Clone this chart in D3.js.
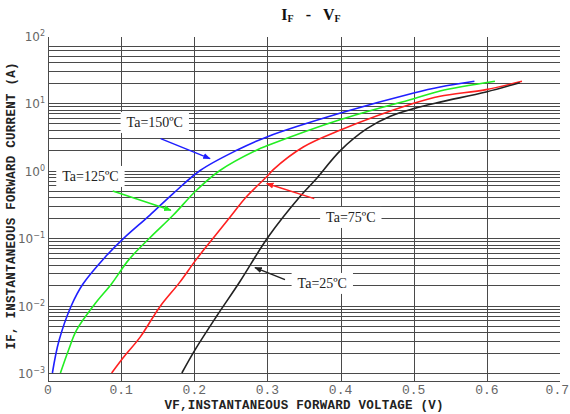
<!DOCTYPE html>
<html>
<head>
<meta charset="utf-8">
<script src="https://cdn.jsdelivr.net/npm/d3@7/dist/d3.min.js"></script>
<style>
  body { margin: 0; background: #fff; }
  svg { display: block; }
</style>
</head>
<body>
<script>
// curve data (VF in volts, IF in amps)
var v150 = [0.006, 0.015, 0.032, 0.048, 0.078, 0.103, 0.139, 0.171, 0.208, 0.258, 0.301, 0.40, 0.50, 0.536, 0.583];
var i150 = [0.001, 0.003, 0.01, 0.021, 0.052, 0.098, 0.217, 0.455, 1.0, 1.99, 3.2, 7.1, 14.1, 17.3, 21];

var v125 = [0.017, 0.028, 0.039, 0.064, 0.087, 0.110, 0.139, 0.171, 0.203, 0.235, 0.285, 0.301, 0.40, 0.50, 0.536, 0.611];
var i125 = [0.001, 0.00217, 0.0043, 0.0105, 0.021, 0.047, 0.10, 0.217, 0.51, 1.0, 2.0, 2.36, 5.7, 11.6, 15.1, 21];

var v75 = [0.087, 0.103, 0.126, 0.153, 0.180, 0.202, 0.226, 0.249, 0.271, 0.301, 0.308, 0.349, 0.399, 0.499, 0.536, 0.599, 0.648];
var i75 = [0.001, 0.0017, 0.0034, 0.0096, 0.022, 0.047, 0.10, 0.205, 0.405, 0.85, 1.03, 2.23, 3.94, 9.8, 12.6, 15.8, 21];

var v25 = [0.183, 0.201, 0.230, 0.262, 0.301, 0.344, 0.365, 0.400, 0.436, 0.468, 0.50, 0.536, 0.599, 0.645];
var i25 = [0.001, 0.0022, 0.0068, 0.0223, 0.1035, 0.405, 0.716, 1.99, 4.17, 6.36, 8.25, 10.3, 14.6, 20];

var seriesNames = ["Ta=150ºC", "Ta=125ºC", "Ta=75ºC", "Ta=25ºC"];
var seriesColors = ["#1f1fff", "#22ee22", "#ff2020", "#222222"];

// annotation anchors in data units: label centre, arrow start, arrow tip
var labelAt = [[0.146, 5.24], [0.058, 0.83], [0.414, 0.205], [0.375, 0.0216]];
var arrowFrom = [[0.154, 2.97], [0.0885, 0.497], [0.364, 0.383], [0.324, 0.0242]];
var arrowTo = [[0.2215, 1.5], [0.168, 0.257], [0.299, 0.64], [0.283, 0.0364]];

var xTicks = [0, 0.1, 0.2, 0.3, 0.4, 0.5, 0.6, 0.7];
var xTickText = ["0", "0.1", "0.2", "0.3", "0.4", "0.5", "0.6", "0.7"];
var yDecades = [-3, -2, -1, 0, 1, 2];
var yTopGrid = 70; // top decade only drawn up to 70 A

var width = 570, height = 414;
var plotTop = 37, axisBottom = 381;

var svg = d3.select("body").append("svg")
  .attr("width", width)
  .attr("height", height);

var x = d3.scaleLinear().domain([0, 0.7]).range([48, 560]);
var y = d3.scaleLog().domain([1e-3, 1e2]).range([373, 35.5]);

// horizontal grid: every 1..9 x 10^n, clipped at 70 in the top decade
var hVals = [];
yDecades.slice(0, -1).forEach(function(n) {
  for (var k = 1; k <= 9; k++) {
    var val = k * Math.pow(10, n);
    if (val <= yTopGrid + 1e-9) hVals.push(val);
  }
});

var grid = svg.append("g").attr("class", "grid");
grid.selectAll("line.h")
  .data(hVals)
  .enter().append("line")
  .attr("class", "h")
  .attr("x1", x(0)).attr("x2", x(0.7))
  .attr("y1", function(d) { return Math.round(y(d)) + 0.5; })
  .attr("y2", function(d) { return Math.round(y(d)) + 0.5; })
  .attr("stroke", "#4a4a4a")
  .attr("stroke-width", 1);

// bottom axis line
grid.append("line")
  .attr("x1", x(0)).attr("x2", x(0.7))
  .attr("y1", axisBottom + 0.5).attr("y2", axisBottom + 0.5)
  .attr("stroke", "#4a4a4a");

grid.selectAll("line.v")
  .data(xTicks.slice(0, -1))
  .enter().append("line")
  .attr("class", "v")
  .attr("x1", function(d) { return Math.round(x(d)) + 0.5; })
  .attr("x2", function(d) { return Math.round(x(d)) + 0.5; })
  .attr("y1", plotTop).attr("y2", axisBottom)
  .attr("stroke", "#4a4a4a")
  .attr("stroke-width", 1);

// tick labels
var last = xTicks.length - 1;
svg.append("g").selectAll("text")
  .data(xTicks)
  .enter().append("text")
  .attr("x", function(d, i) { return i == last ? 569 : x(d); })
  .attr("y", 394)
  .attr("text-anchor", function(d, i) { return i == last ? "end" : "middle"; })
  .attr("font-family", "Liberation Mono, monospace")
  .attr("font-size", 13)
  .attr("fill", "#666")
  .text(function(d, i) { return xTickText[i]; });

var yLab = svg.append("g").selectAll("text")
  .data(yDecades)
  .enter().append("text")
  .attr("x", 45)
  .attr("y", function(d) { return y(Math.pow(10, d)) + 5; })
  .attr("text-anchor", "end")
  .attr("font-family", "DejaVu Sans, sans-serif")
  .attr("font-size", 12)
  .attr("fill", "#666");
yLab.append("tspan").text("10");
yLab.append("tspan")
  .attr("dy", -5)
  .attr("font-size", 8)
  .text(function(d) { return d < 0 ? "\u2212" + (-d) : d; });

// axis titles
svg.append("text")
  .attr("x", 304)
  .attr("y", 409)
  .attr("text-anchor", "middle")
  .attr("font-family", "Liberation Mono, monospace")
  .attr("font-weight", "bold")
  .attr("font-size", 12.5)
  .attr("fill", "#222")
  .attr("textLength", 279)
  .text("VF,INSTANTANEOUS FORWARD VOLTAGE (V)");

svg.append("text")
  .attr("transform", "translate(15,206) rotate(-90)")
  .attr("text-anchor", "middle")
  .attr("font-family", "Liberation Mono, monospace")
  .attr("font-weight", "bold")
  .attr("font-size", 12.5)
  .attr("fill", "#222")
  .attr("textLength", 287)
  .text("IF, INSTANTANEOUS FORWARD CURRENT (A)");

// title I_F - V_F
var title = svg.append("text")
  .attr("x", 311)
  .attr("y", 20)
  .attr("text-anchor", "middle")
  .attr("font-family", "Liberation Serif, serif")
  .attr("font-weight", "bold")
  .attr("font-size", 16)
  .attr("fill", "#111");
title.append("tspan").text("I");
title.append("tspan").attr("font-size", 10).attr("dy", 2).text("F");
title.append("tspan").attr("dy", -2).text("\u00a0\u00a0\u00a0-\u00a0\u00a0\u00a0V");
title.append("tspan").attr("font-size", 10).attr("dy", 2).text("F");

// curves
var curves = [[v150, i150], [v125, i125], [v75, i75], [v25, i25]];
var line = d3.line()
  .x(function(d) { return x(d[0]); })
  .y(function(d) { return y(d[1]); })
  .curve(d3.curveCatmullRom.alpha(0.5));

svg.append("g").selectAll("path")
  .data(curves)
  .enter().append("path")
  .attr("d", function(c) { return line(d3.zip(c[0], c[1])); })
  .attr("fill", "none")
  .attr("stroke", function(d, i) { return seriesColors[i]; })
  .attr("stroke-width", 1.6);

// annotations
var defs = svg.append("defs");
seriesColors.forEach(function(c, i) {
  defs.append("marker")
    .attr("id", "arr" + i)
    .attr("viewBox", "0 0 10 10")
    .attr("refX", 9).attr("refY", 5)
    .attr("markerWidth", 5).attr("markerHeight", 5)
    .attr("orient", "auto")
    .append("path")
    .attr("d", "M0,1L10,5L0,9Z")
    .attr("fill", c);
});

var ann = svg.append("g").selectAll("g")
  .data(seriesNames)
  .enter().append("g");

ann.append("text")
  .attr("class", "lab")
  .attr("x", function(d, i) { return x(labelAt[i][0]); })
  .attr("y", function(d, i) { return y(labelAt[i][1]) + 5; })
  .attr("text-anchor", "middle")
  .attr("font-family", "Liberation Serif, serif")
  .attr("font-size", 14)
  .attr("fill", "#222")
  .text(function(d) { return d; });

ann.each(function() {
  var g = d3.select(this);
  var bb = g.select("text").node().getBBox();
  g.insert("rect", "text")
    .attr("x", bb.x - 6).attr("y", bb.y - 3)
    .attr("width", bb.width + 12).attr("height", bb.height + 6)
    .attr("fill", "#fff");
});

ann.append("line")
  .attr("x1", function(d, i) { return x(arrowFrom[i][0]); })
  .attr("y1", function(d, i) { return y(arrowFrom[i][1]); })
  .attr("x2", function(d, i) { return x(arrowTo[i][0]); })
  .attr("y2", function(d, i) { return y(arrowTo[i][1]); })
  .attr("stroke", function(d, i) { return seriesColors[i]; })
  .attr("stroke-width", 1.5)
  .attr("marker-end", function(d, i) { return "url(#arr" + i + ")"; });
</script>
</body>
</html>
